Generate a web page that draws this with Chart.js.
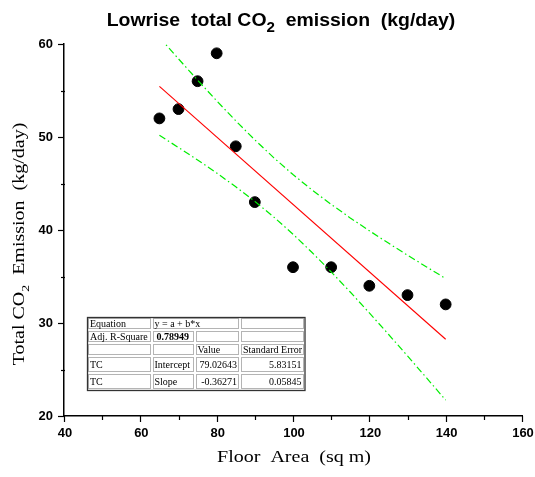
<!DOCTYPE html>
<html>
<head>
<meta charset="utf-8">
<script src="https://cdn.jsdelivr.net/npm/chart.js@4/dist/chart.umd.min.js"></script>
<style>
  html, body { margin: 0; padding: 0; background: #fff; }
  #wrap { width: 535px; height: 477px; }
</style>
</head>
<body>
<div id="wrap"><canvas id="c" width="535" height="477"></canvas></div>
<script>
// ---- data ----
const floorArea = [65, 70, 75, 80, 85, 90, 100, 110, 120, 130, 140];
const co2Emission = [52, 53, 56, 59, 49, 43, 36, 36, 34, 33, 32];
const fitX = [65, 140];
const fitY = [55.45, 28.25];
const bandX = [65, 70, 75, 80, 85, 90, 95, 100, 105, 110, 115, 120, 125, 130, 135, 140];
const upperBand = [60.72, 58.40, 56.12, 53.89, 51.74, 49.69, 47.76, 45.96, 44.30, 42.76, 41.30, 39.92, 38.59, 37.29, 36.03, 34.78];
const lowerBand = [50.18, 48.87, 47.53, 46.13, 44.65, 43.08, 41.38, 39.55, 37.58, 35.50, 33.33, 31.08, 28.79, 26.46, 24.09, 21.71];
const xTickLabels = [40, 60, 80, 100, 120, 140, 160];
const xMinorTicks = [50, 70, 90, 110, 130, 150];
const yTickLabels = [20, 30, 40, 50, 60];
const yMinorTicks = [25, 35, 45, 55];
const tableRows = [
  ["Equation", "y = a + b*x", null, ""],
  ["Adj. R-Square", "0.78949", "", ""],
  ["", "", "Value", "Standard Error"],
  ["TC", "Intercept", "79.02643", "5.83151"],
  ["TC", "Slope", "-0.36271", "0.05845"]
];

const toPts = (xs, ys) => xs.map((x, i) => ({ x: x, y: ys[i] }));

function drawRich(ctx, parts, cx, cy, rot, sx) {
  ctx.save();
  ctx.translate(cx, cy);
  ctx.rotate(rot);
  ctx.scale(sx, 1);
  let total = 0;
  parts.forEach(p => { ctx.font = p.font; total += ctx.measureText(p.t).width; });
  let x = -total / 2;
  ctx.textAlign = 'left';
  ctx.textBaseline = 'alphabetic';
  ctx.fillStyle = '#000';
  parts.forEach(p => {
    ctx.font = p.font;
    ctx.fillText(p.t, x, p.dy || 0);
    x += ctx.measureText(p.t).width;
  });
  ctx.restore();
}

function drawStretched(ctx, text, x, y, sx, align, baseline) {
  ctx.save();
  ctx.translate(x, y);
  ctx.scale(sx, 1);
  ctx.textAlign = align;
  ctx.textBaseline = baseline || 'alphabetic';
  ctx.fillText(text, 0, 0);
  ctx.restore();
}

const decor = {
  id: 'decor',
  beforeDraw(chart) {
    const ctx = chart.ctx;
    ctx.save();
    ctx.fillStyle = '#fff';
    ctx.fillRect(0, 0, chart.width, chart.height);
    ctx.restore();
  },
  afterDraw(chart) {
    const ctx = chart.ctx;
    const xs = chart.scales.x, ys = chart.scales.y;
    const ca = chart.chartArea;
    ctx.save();
    ctx.strokeStyle = '#000';
    ctx.lineWidth = 1.2;
    // x ticks
    xTickLabels.forEach(v => {
      const px = Math.round(xs.getPixelForValue(v)) + 0.5;
      ctx.beginPath(); ctx.moveTo(px, ca.bottom); ctx.lineTo(px, ca.bottom + 6); ctx.stroke();
    });
    xMinorTicks.forEach(v => {
      const px = Math.round(xs.getPixelForValue(v)) + 0.5;
      ctx.beginPath(); ctx.moveTo(px, ca.bottom); ctx.lineTo(px, ca.bottom + 4); ctx.stroke();
    });
    yTickLabels.forEach(v => {
      const py = Math.round(ys.getPixelForValue(v)) + 0.5;
      ctx.beginPath(); ctx.moveTo(ca.left, py); ctx.lineTo(ca.left - 6, py); ctx.stroke();
    });
    yMinorTicks.forEach(v => {
      const py = Math.round(ys.getPixelForValue(v)) + 0.5;
      ctx.beginPath(); ctx.moveTo(ca.left + 1, py); ctx.lineTo(ca.left - 3, py); ctx.stroke();
    });
    // tick labels
    ctx.fillStyle = '#000';
    ctx.font = 'bold 12px "Liberation Sans", Arial, sans-serif';
    xTickLabels.forEach(v => {
      drawStretched(ctx, String(v), xs.getPixelForValue(v) + 1, ca.bottom + 21, 1.08, 'center', 'alphabetic');
    });
    yTickLabels.forEach(v => {
      drawStretched(ctx, String(v), ca.left - 11, ys.getPixelForValue(v) + 4, 1.08, 'right', 'alphabetic');
    });
    // title
    drawRich(ctx, [
      { t: 'Lowrise  total CO', font: 'bold 18px "Liberation Sans", Arial, sans-serif' },
      { t: '2', font: 'bold 14px "Liberation Sans", Arial, sans-serif', dy: 6 },
      { t: '  emission  (kg/day)', font: 'bold 18px "Liberation Sans", Arial, sans-serif' }
    ], 281, 25.5, 0, 1.08);
    // x title
    drawRich(ctx, [
      { t: 'Floor  Area  (sq m)', font: '16px "Liberation Serif", "Times New Roman", serif' }
    ], 294, 462, 0, 1.25);
    // y title
    drawRich(ctx, [
      { t: 'Total CO', font: '16px "Liberation Serif", "Times New Roman", serif' },
      { t: '2', font: '11px "Liberation Serif", "Times New Roman", serif', dy: 5 },
      { t: '  Emission  (kg/day)', font: '16px "Liberation Serif", "Times New Roman", serif' }
    ], 24, 244, -Math.PI / 2, 1.25);

    // table
    const colX = [87, 151.5, 194.5, 240, 304.5];
    const rowY = [317, 330, 343, 356, 373, 390];
    ctx.fillStyle = '#fff';
    ctx.fillRect(colX[0], rowY[0], colX[4] - colX[0], rowY[5] - rowY[0]);
    ctx.strokeStyle = '#b4b4b4';
    ctx.lineWidth = 1;
    tableRows.forEach((row, r) => {
      for (let c = 0; c < 4; c++) {
        if (row[c] === null) continue;
        let x0 = colX[c], x1 = colX[c + 1];
        if (c + 1 < 4 && row[c + 1] === null) x1 = colX[c + 2];
        ctx.strokeRect(Math.round(x0) + 1.5, Math.round(rowY[r]) + 1.5,
          Math.round(x1) - Math.round(x0) - 3, Math.round(rowY[r + 1]) - Math.round(rowY[r]) - 3);
      }
    });
    ctx.strokeStyle = '#333';
    ctx.lineWidth = 1.3;
    ctx.strokeRect(colX[0] + 0.5, rowY[0] + 0.5, colX[4] - colX[0], rowY[5] - rowY[0]);
    ctx.fillStyle = '#000';
    ctx.textBaseline = 'alphabetic';
    tableRows.forEach((row, r) => {
      const base = (rowY[r] + rowY[r + 1]) / 2 + 3.5;
      for (let c = 0; c < 4; c++) {
        const t = row[c];
        if (!t) continue;
        const bold = (r === 1 && c === 1);
        ctx.font = (bold ? 'bold ' : '') + '10px "Liberation Serif", "Times New Roman", serif';
        const rightAlign = (r >= 3 && c >= 2);
        if (rightAlign) {
          ctx.textAlign = 'right';
          ctx.fillText(t, colX[c + 1] - 3, base);
        } else {
          ctx.textAlign = 'left';
          ctx.fillText(t, colX[c] + (bold ? 5 : 3), base);
        }
      }
    });
    ctx.restore();
  }
};

new Chart(document.getElementById('c'), {
  type: 'scatter',
  data: {
    datasets: [
      {
        label: 'Upper 95%',
        data: toPts(bandX, upperBand),
        showLine: true,
        borderColor: '#00ee00',
        borderWidth: 1.2,
        borderDash: [7, 3, 1.5, 3],
        pointRadius: 0,
        fill: false,
        clip: 0,
        order: 0
      },
      {
        label: 'Lower 95%',
        data: toPts(bandX, lowerBand),
        showLine: true,
        borderColor: '#00ee00',
        borderWidth: 1.2,
        borderDash: [7, 3, 1.5, 3],
        pointRadius: 0,
        fill: false,
        clip: 0,
        order: 0
      },
      {
        label: 'Linear fit',
        data: toPts(fitX, fitY),
        showLine: true,
        borderColor: '#ff0000',
        borderWidth: 1.1,
        pointRadius: 0,
        fill: false,
        order: 1
      },
      {
        label: 'TC',
        data: toPts(floorArea, co2Emission),
        backgroundColor: '#000',
        borderColor: '#000',
        pointRadius: 5.4,
        pointHoverRadius: 5.4,
        order: 2
      }
    ]
  },
  options: {
    responsive: false,
    animation: false,
    events: [],
    layout: { padding: { top: 44, right: 13, left: 0, bottom: 0 } },
    plugins: { legend: { display: false }, tooltip: { enabled: false }, title: { display: false } },
    scales: {
      x: {
        type: 'linear', min: 40, max: 160,
        ticks: { display: false },
        grid: { display: false },
        border: { display: true, color: '#000', width: 1.5 },
        afterFit(s) { s.height = 61; }
      },
      y: {
        type: 'linear', min: 20, max: 60,
        ticks: { display: false },
        grid: { display: false },
        border: { display: true, color: '#000', width: 1.5 },
        afterFit(s) { s.width = 64; }
      }
    }
  },
  plugins: [decor]
});
</script>
</body>
</html>
